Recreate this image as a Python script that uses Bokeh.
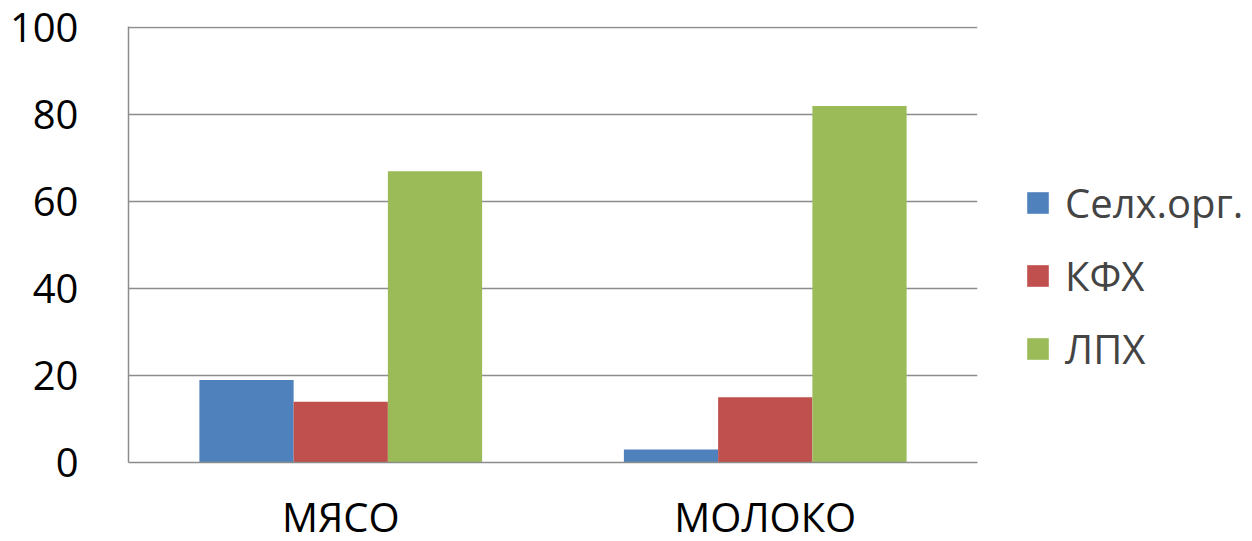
from bokeh.plotting import figure
from bokeh.models import FactorRange, Range1d, ColumnDataSource, Legend, LegendItem, FixedTicker
from bokeh.transform import dodge
from bokeh.embed import file_html
from bokeh.resources import INLINE

categories = ["МЯСО", "МОЛОКО"]
series_names = ["Селх.орг.", "КФХ", "ЛПХ"]
selh = [19, 3]
kfh = [14, 15]
lph = [67, 82]
y_ticks = [0, 20, 40, 60, 80, 100]

colors = ["#4F81BD", "#C0504D", "#9BBB59"]
FONT = "Open Sans"

src = ColumnDataSource(dict(cat=categories, selh=selh, kfh=kfh, lph=lph))

p = figure(x_range=FactorRange(*categories, range_padding=0),
           y_range=Range1d(0, 100.3),
           frame_width=849, frame_height=436,
           min_border_left=128, min_border_top=26, min_border_bottom=78, min_border_right=10,
           output_backend="svg", toolbar_location=None)

bw = 0.222
offsets = [-bw, 0, bw]
fields = ["selh", "kfh", "lph"]
renderers = []
for f, off, c in zip(fields, offsets, colors):
    r = p.vbar(x=dodge("cat", off, range=p.x_range), top=f, width=bw, source=src,
               fill_color=c, line_color=None)
    renderers.append(r)

p.outline_line_color = None
p.xgrid.grid_line_color = None
p.ygrid.grid_line_color = "#8C8C8C"
p.ygrid.grid_line_width = 1.5
p.yaxis.ticker = FixedTicker(ticks=y_ticks)

for ax in (p.xaxis, p.yaxis):
    ax.axis_line_color = "#8C8C8C"
    ax.axis_line_width = 1.5
    ax.major_tick_line_color = None
    ax.minor_tick_line_color = None
    ax.major_label_text_font = FONT
    ax.major_label_text_color = "#000000"

p.yaxis.major_label_text_font_size = "40px"
p.xaxis.major_label_text_font_size = "40px"
p.yaxis.major_label_standoff = 44
p.xaxis.major_label_standoff = 20

legend = Legend(items=[LegendItem(label=n, renderers=[r]) for n, r in zip(series_names, renderers)],
                location=(47, 86), orientation="vertical",
                glyph_width=27, glyph_height=27, label_standoff=14, spacing=18,
                padding=0, margin=0, border_line_color=None, background_fill_alpha=0,
                label_text_font=FONT, label_text_font_size="40px")
p.add_layout(legend, "right")

open("out.html", "w").write(file_html(p, INLINE))
